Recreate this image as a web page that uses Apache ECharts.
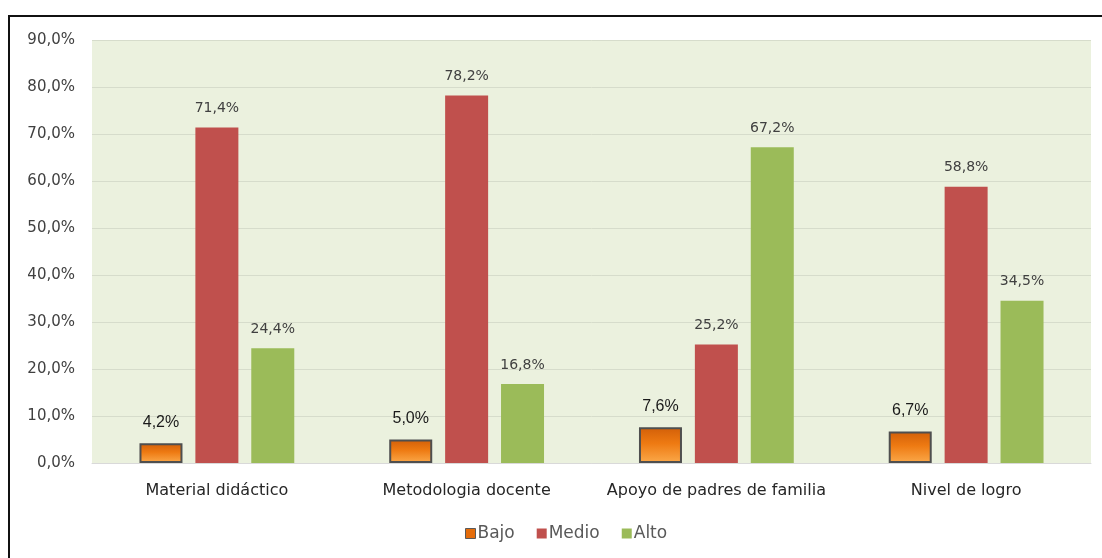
<!DOCTYPE html>
<html>
<head>
<meta charset="utf-8">
<script src="https://cdn.jsdelivr.net/npm/echarts@6/dist/echarts.min.js"></script>
<style>
html,body{margin:0;padding:0;background:#fff;overflow:hidden;}
#chart{position:absolute;left:0;top:0;width:1102px;height:558px;}
</style>
</head>
<body>
<div id="chart"></div>
<script>
const categories = ['Material didáctico', 'Metodologia docente', 'Apoyo de padres de familia', 'Nivel de logro'];
const bajo = [4.2, 5.0, 7.6, 6.7];
const medio = [71.4, 78.2, 25.2, 58.8];
const alto = [24.4, 16.8, 67.2, 34.5];
const yTicks = { min: 0, max: 90, interval: 10 };

const fmt = v => v.toFixed(1).replace('.', ',') + '%';
const chart = echarts.init(document.getElementById('chart'));
const labelStyle = {
  show: true, position: 'top', distance: 12,
  color: '#404040', fontSize: 14, fontFamily: 'DejaVu Sans',
  formatter: p => fmt(p.value)
};
chart.setOption({
  animation: false,
  textStyle: { fontFamily: 'DejaVu Sans' },
  graphic: [
    { type: 'polyline', silent: true, shape: { points: [[9, 560], [9, 16], [1104, 16]] }, style: { stroke: '#111', lineWidth: 2, fill: null } }
  ],
  grid: { left: 92, right: 11, top: 40, bottom: 95, show: true, backgroundColor: '#EBF1DE', borderWidth: 0 },
  legend: {
    bottom: 11, left: 460, itemWidth: 10, itemHeight: 10, itemGap: 22, icon: 'rect',
    textStyle: { color: '#595959', fontSize: 17, fontFamily: 'DejaVu Sans', padding: [0, 0, 0, -3] },
    data: [
      { name: 'Bajo', itemStyle: { color: '#E46C0A', borderColor: '#595959', borderWidth: 1 } },
      { name: 'Medio' }, { name: 'Alto' }
    ]
  },
  xAxis: {
    type: 'category', data: categories,
    axisLine: { lineStyle: { color: '#D9D9D9' } },
    axisTick: { show: false },
    axisLabel: { color: '#262626', fontSize: 16, margin: 20, interval: 0, fontFamily: 'DejaVu Sans' }
  },
  yAxis: {
    type: 'value', min: yTicks.min, max: yTicks.max, interval: yTicks.interval,
    axisLine: { show: false }, axisTick: { show: false },
    splitLine: { lineStyle: { color: '#D6DCCB', width: 1 } },
    axisLabel: { color: '#404040', fontSize: 15, margin: 17, formatter: v => fmt(v) }
  },
  series: [
    {
      name: 'Bajo', type: 'bar', data: bajo, barWidth: 43, barGap: '30%',
      itemStyle: {
        color: new echarts.graphic.LinearGradient(0, 0, 0, 1, [
          { offset: 0, color: '#D25F08' }, { offset: 0.45, color: '#EE7A12' }, { offset: 1, color: '#FBA94A' }
        ]),
        borderColor: '#4F4F4F', borderWidth: 2
      },
      label: Object.assign({}, labelStyle, { color: '#1A1A1A', fontSize: 16, fontFamily: 'Liberation Sans', distance: 13 })
    },
    {
      name: 'Medio', type: 'bar', data: medio, barWidth: 43, barGap: '30%',
      itemStyle: { color: '#C0504D' },
      label: labelStyle
    },
    {
      name: 'Alto', type: 'bar', data: alto, barWidth: 43, barGap: '30%',
      itemStyle: { color: '#9BBB59' },
      label: labelStyle
    }
  ]
});
</script>
</body>
</html>
